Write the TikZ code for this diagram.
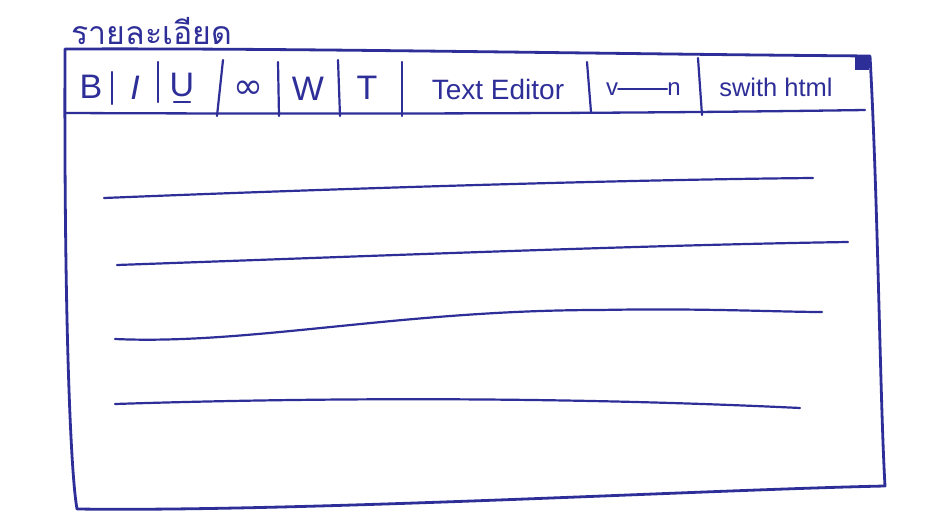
\documentclass[tikz,border=0pt]{standalone}
\usepackage{fontspec}
\setmainfont{Liberation Sans}
\newfontfamily\thaifont[Script=Thai]{Loma}
\newfontfamily\symfont{DejaVu Sans}
\definecolor{ink}{HTML}{2E2E98}
\begin{document}
\begin{tikzpicture}[x=1pt,y=-1pt,
  frame/.style={draw=ink,line width=2.8pt,line join=round,line cap=round},
  sep/.style={draw=ink,line width=2.2pt,line cap=round},
  rule/.style={draw=ink,line width=2.2pt,line cap=round},
  btn/.style={text=ink,inner sep=0pt,font=\fontsize{34}{36}\selectfont},
  lbl/.style={text=ink,inner sep=0pt,font=\fontsize{28}{30}\selectfont}]
\useasboundingbox (0,0) rectangle (938,530);
% title
\node[text=ink,inner sep=0pt,font=\thaifont\fontsize{32}{34}\selectfont] (title) at (152,31) {รายละเอียด};
% frame corners
\coordinate (TL) at (65,49);
\coordinate (TR) at (870,56);
\coordinate (BR) at (885,486);
\coordinate (BL) at (77,509);
\draw[frame] (TL) .. controls (300,48) and (600,54) .. (TR)
  .. controls (878,200) and (880,400) .. (BR)
  .. controls (700,490) and (300,512) .. (BL)
  .. controls (70,470) and (64,300) .. cycle;
% corner mark
\node[fill=ink,minimum size=14pt,inner sep=0pt,anchor=north east] (corner) at (869,56) {};
% toolbar bottom
\coordinate (tbL) at (66,113);
\coordinate (tbR) at (865,110);
\draw[frame,line width=2.3pt] (tbL) .. controls (300,114) and (600,114) .. (tbR);
% separators
\coordinate (s1a) at (112,72); \coordinate (s1b) at (112,104);
\coordinate (s2a) at (158,62); \coordinate (s2b) at (158,102);
\coordinate (s3a) at (223,60); \coordinate (s3b) at (217,116);
\coordinate (s4a) at (278,62); \coordinate (s4b) at (279,116);
\coordinate (s5a) at (338,60); \coordinate (s5b) at (340,116);
\coordinate (s6a) at (402,62); \coordinate (s6b) at (402,116);
\coordinate (s7a) at (587,62); \coordinate (s7b) at (591,112);
\coordinate (s8a) at (698,58); \coordinate (s8b) at (702,115);
\foreach \i in {1,...,8} {\draw[sep] (s\i a) -- (s\i b);}
% buttons
\node[btn] (bB) at (91,87) {B};
\node[btn,font=\fontsize{34}{36}\selectfont\itshape] (bI) at (135,88) {I};
\node[btn] (bU) at (182,85) {U};
\draw[sep] ([xshift=-8pt,yshift=-5pt]bU.south) -- ([xshift=8pt,yshift=-5pt]bU.south);
\node[btn,font=\symfont\fontsize{36}{38}\selectfont] (bL) at (248,90) {∞};
\node[btn] (bW) at (308,89) {W};
\node[btn] (bT) at (367,88) {T};
\node[lbl] (ed) at (498,89) {Text Editor};
\node[lbl,font=\fontsize{24}{26}\selectfont] (av) at (612,89) {v};
\node[lbl,font=\fontsize{24}{26}\selectfont] (an) at (674,89) {n};
\draw[sep] (av.east) -- (an.west);
\node[lbl,font=\fontsize{25.5}{27}\selectfont] (sw) at (776,87) {swith html};
% text lines
\coordinate (l1a) at (104,198); \coordinate (l1b) at (813,178);
\coordinate (l2a) at (117,265); \coordinate (l2b) at (848,242);
\coordinate (l3a) at (115,339); \coordinate (l3b) at (822,312);
\coordinate (l4a) at (115,404); \coordinate (l4b) at (800,408);
\draw[rule] (l1a) .. controls (300,190) and (600,180) .. (l1b);
\draw[rule] (l2a) .. controls (400,255) and (650,245) .. (l2b);
\draw[rule] (l3a) .. controls (250,345) and (400,310) .. (600,310) .. controls (700,308) and (780,312) .. (l3b);
\draw[rule] (l4a) .. controls (300,398) and (550,396) .. (l4b);
\end{tikzpicture}
\end{document}
